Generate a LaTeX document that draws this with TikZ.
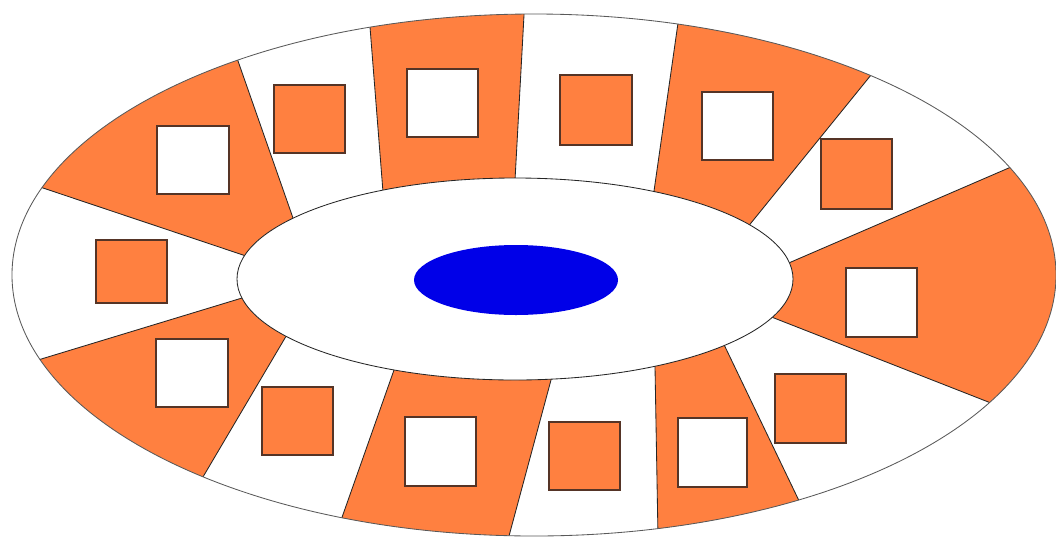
\documentclass[tikz,border=0pt]{standalone}
\usetikzlibrary{calc}
\definecolor{sectorange}{RGB}{255,128,64}
\definecolor{edgebrown}{RGB}{85,52,38}
\definecolor{discblue}{RGB}{0,0,232}
\begin{document}
\begin{tikzpicture}[x=0.025cm,y=-0.025cm,
  bound/.style={draw=black!85, line width=0.6pt},
  rim/.style={draw=black!65, line width=0.6pt},
  orangesq/.style={fill=sectorange, draw=edgebrown, line width=1.1pt},
  whitesq/.style={fill=white, draw=edgebrown, line width=1.1pt}]
\useasboundingbox (0,0) rectangle (1056,540);
\clip (0,0) rectangle (1056,540);
% sector boundaries: inner point (i) and outer point (o)
\coordinate (i1) at (243,255);  \coordinate (o1) at (43,188);
\coordinate (i2) at (293,218);  \coordinate (o2) at (238,61);
\coordinate (i3) at (383,192);  \coordinate (o3) at (370,27);
\coordinate (i4) at (515,180);  \coordinate (o4) at (524,15);
\coordinate (i5) at (654,191);  \coordinate (o5) at (678,23);
\coordinate (i6) at (751,223);  \coordinate (o6) at (871,75);
\coordinate (i7) at (791,262);  \coordinate (o7) at (1011,167);
\coordinate (i8) at (774,318);  \coordinate (o8) at (996,405);
\coordinate (i9) at (729,355);  \coordinate (o9) at (802,507);
\coordinate (i10) at (655,367); \coordinate (o10) at (658,537);
\coordinate (i11) at (551,380); \coordinate (o11) at (509,536);
\coordinate (i12) at (394,370); \coordinate (o12) at (340,523);
\coordinate (i13) at (285,338); \coordinate (o13) at (200,482);
\coordinate (i14) at (242,298); \coordinate (o14) at (38,360);
% outer ring
\fill[white] (534,275) ellipse [x radius=522, y radius=261];
\begin{scope}
  \clip (534,275) ellipse [x radius=522, y radius=261];
  \foreach \a/\b in {1/2,3/4,5/6,7/8,9/10,11/12,13/14}
    \fill[sectorange] ($(i\a)!-0.1!(o\a)$) -- ($(i\a)!2.5!(o\a)$)
      -- ($(i\b)!2.5!(o\b)$) -- ($(i\b)!-0.1!(o\b)$) -- cycle;
  \foreach \k in {1,...,14}
    \draw[bound] ($(i\k)!-0.1!(o\k)$) -- ($(i\k)!1.3!(o\k)$);
\end{scope}
\draw[rim] (534,275) ellipse [x radius=522, y radius=261];
% inner hole
\draw[bound, fill=white] (515,279) ellipse [x radius=278, y radius=101];
% blue core
\fill[discblue] (516,280) ellipse [x radius=102, y radius=35];
% squares
\draw[whitesq]  (157,126) rectangle (229,194);
\draw[orangesq] (274,85)  rectangle (345,153);
\draw[orangesq] (96,240)  rectangle (167,303);
\draw[whitesq]  (407,69)  rectangle (478,137);
\draw[orangesq] (560,75)  rectangle (632,145);
\draw[whitesq]  (702,92)  rectangle (773,160);
\draw[orangesq] (821,139) rectangle (892,209);
\draw[whitesq]  (846,268) rectangle (917,337);
\draw[orangesq] (775,374) rectangle (846,443);
\draw[whitesq]  (678,418) rectangle (747,487);
\draw[orangesq] (549,422) rectangle (620,490);
\draw[whitesq]  (405,417) rectangle (476,486);
\draw[orangesq] (262,387) rectangle (333,455);
\draw[whitesq]  (156,339) rectangle (228,407);
\end{tikzpicture}
\end{document}
